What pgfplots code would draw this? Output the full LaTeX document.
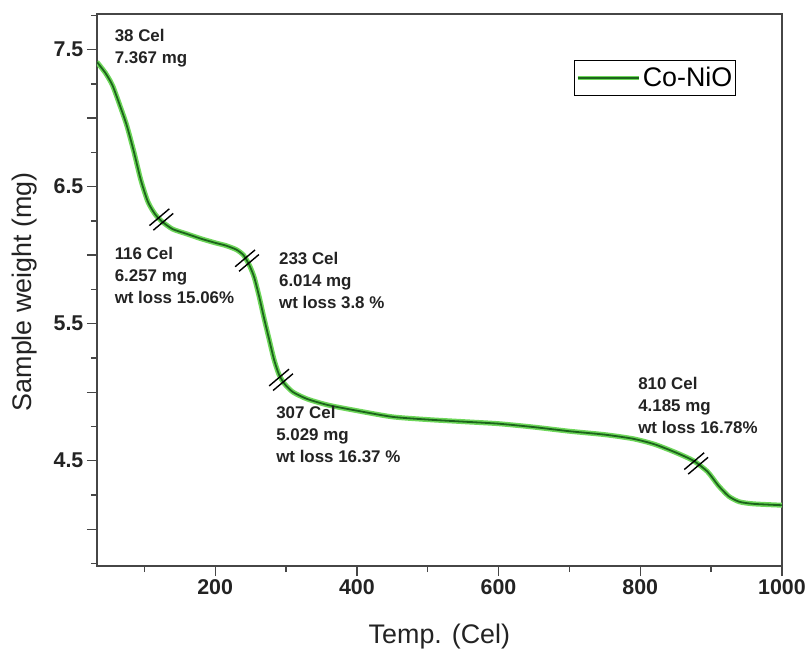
\documentclass[border=0pt]{standalone}
\usepackage{fontspec}
\setmainfont{Liberation Sans}
\usepackage{pgfplots}
\pgfplotsset{compat=1.18}
\definecolor{halo}{RGB}{110,215,90}
\definecolor{core}{RGB}{28,100,28}
\definecolor{axgray}{RGB}{70,70,70}
\definecolor{txt}{RGB}{35,35,35}
\pgfdeclareplotmark{brk}{%
  \pgfsetlinewidth{1.4bp}%
  \pgfpathmoveto{\pgfpoint{8.0bp}{10.7bp}}\pgfpathlineto{\pgfpoint{-11.9bp}{-6.1bp}}%
  \pgfpathmoveto{\pgfpoint{11.9bp}{6.1bp}}\pgfpathlineto{\pgfpoint{-8.0bp}{-10.7bp}}%
  \pgfusepathqstroke}
\begin{document}
\begin{tikzpicture}
\begin{axis}[
  name=ax,
  scale only axis,
  width=686bp, height=553bp,
  xmin=33, xmax=1000, ymin=3.73, ymax=7.76,
  xtick={200,400,...,1000},
  minor xtick={100,300,...,900},
  ytick={4,4.5,...,7.5},
  yticklabels={,4.5,,5.5,,6.5,,7.5},
  minor ytick={3.75,4.25,...,7.75},
  tick pos=left, tick align=outside,
  major tick length=10bp, minor tick length=6bp,
  every tick/.style={axgray, line width=1.3bp},
  axis line style={axgray, line width=1.6bp},
  /pgf/number format/assume math mode=true,
  /pgf/number format/1000 sep={},
  ticklabel style={font=\fontsize{21.5}{25}\selectfont\bfseries, text=txt},
  xlabel={Temp. (Cel)}, ylabel={Sample weight (mg)},
  label style={font=\fontsize{27}{32}\selectfont, text=txt},
  xlabel style={at={(axis description cs:0.5,-0.128)}, anchor=center},
  ylabel style={at={(axis description cs:-0.105,0.497)}, anchor=center},
  legend style={at={(0.933,0.917)}, anchor=north east, draw=black, line width=1.3bp,
    font=\fontsize{27}{30}\selectfont, inner xsep=1bp, inner ysep=5bp},
  legend cell align=left,
  legend image code/.code={%
    \draw[halo, line width=4bp] (0cm,0cm) -- (0.85in,0cm);
    \draw[core, line width=1.8bp] (0cm,0cm) -- (0.85in,0cm);},
]
\addplot[halo, line width=5bp, smooth, tension=0.4, forget plot] coordinates {
(33,7.41) (45,7.33) (55,7.24) (65,7.10) (75,6.95) (85,6.76) (95,6.55) (105,6.39)
(115,6.30) (125,6.245) (140,6.19) (160,6.155) (180,6.12) (200,6.09) (215,6.07)
(230,6.04) (240,6.00) (248,5.93) (255,5.84) (262,5.70) (269,5.54) (276,5.39)
(283,5.24) (290,5.13) (298,5.06) (310,5.00) (330,4.95) (360,4.905) (400,4.865)
(450,4.82) (500,4.80) (550,4.785) (600,4.77) (650,4.745) (700,4.715) (750,4.69)
(790,4.66) (820,4.62) (850,4.56) (875,4.50) (895,4.42) (910,4.32) (925,4.24)
(940,4.20) (960,4.185) (1000,4.175)};
\addplot[core, line width=1.8bp, smooth, tension=0.4] coordinates {
(33,7.41) (45,7.33) (55,7.24) (65,7.10) (75,6.95) (85,6.76) (95,6.55) (105,6.39)
(115,6.30) (125,6.245) (140,6.19) (160,6.155) (180,6.12) (200,6.09) (215,6.07)
(230,6.04) (240,6.00) (248,5.93) (255,5.84) (262,5.70) (269,5.54) (276,5.39)
(283,5.24) (290,5.13) (298,5.06) (310,5.00) (330,4.95) (360,4.905) (400,4.865)
(450,4.82) (500,4.80) (550,4.785) (600,4.77) (650,4.745) (700,4.715) (750,4.69)
(790,4.66) (820,4.62) (850,4.56) (875,4.50) (895,4.42) (910,4.32) (925,4.24)
(940,4.20) (960,4.185) (1000,4.175)};
\addlegendentry{Co-NiO}
\addplot[only marks, mark=brk, black, forget plot] coordinates {
(124,6.26) (245,5.96) (293,5.09) (879,4.48)};
\begin{scope}[every node/.style={anchor=north west, inner sep=0pt, align=left, text=txt,
   font=\fontsize{17}{22}\selectfont\bfseries}]
\node at (axis cs:58,7.65) {38 Cel\\7.367 mg};
\node at (axis cs:58,6.06) {116 Cel\\6.257 mg\\wt loss 15.06\%};
\node at (axis cs:290,6.02) {233 Cel\\6.014 mg\\wt loss 3.8 \%};
\node at (axis cs:286,4.90) {307 Cel\\5.029 mg\\wt loss 16.37 \%};
\node at (axis cs:797,5.11) {810 Cel\\4.185 mg\\wt loss 16.78\%};
\end{scope}
\end{axis}
\path (ax.south west) ++(-97bp,-86bp);
\path (ax.north east) ++(26bp,14bp);
\end{tikzpicture}
\end{document}
